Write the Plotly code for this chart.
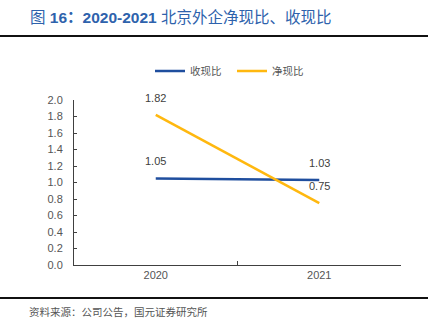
import plotly.graph_objects as go

years = ["2020", "2021"]
collect_ratio = [1.05, 1.03]   # 收现比
net_ratio = [1.82, 0.75]       # 净现比
series_names = ["收现比", "净现比"]
y_ticks = [0.0, 0.2, 0.4, 0.6, 0.8, 1.0, 1.2, 1.4, 1.6, 1.8, 2.0]

BLUE = "#1F4E9E"
YELLOW = "#FFB80F"
GRAY = "#404040"
CJK = "Liberation Sans, Noto Sans CJK SC"

# plot area in px
L, R, T, B = 74, 401, 100, 265
W, H = 435, 325
def px(x):
    return (x - L) / (R - L)
def py(y):
    return (B - y) / (B - T)

fig = go.Figure()
for name, vals, col in [(series_names[0], collect_ratio, BLUE), (series_names[1], net_ratio, YELLOW)]:
    fig.add_trace(go.Scatter(x=years, y=vals, mode="lines", name=name,
                             line=dict(color=col, width=2.5)))

annotations = []
for vals in (collect_ratio, net_ratio):
    for i, v in enumerate(vals):
        annotations.append(dict(x=i, y=v, xref="x", yref="y", text=f"{v:.2f}",
                                showarrow=False, yshift=17,
                                font=dict(family=CJK, size=11, color=GRAY)))

annotations.append(dict(x=px(28), y=py(17), xref="paper", yref="paper",
                        xanchor="left", yanchor="middle", showarrow=False,
                        text="图 <b>16：2020-2021</b> 北京外企净现比、收现比",
                        font=dict(family=CJK, size=15.5, color="#2E62AC")))
annotations.append(dict(x=px(27), y=py(312), xref="paper", yref="paper",
                        xanchor="left", yanchor="middle", showarrow=False,
                        text="资料来源：公司公告，国元证券研究所",
                        font=dict(family=CJK, size=10.5, color="#555555")))

shapes = [
    dict(type="line", xref="paper", yref="paper", x0=px(0), x1=px(428), y0=py(36), y1=py(36),
         line=dict(color="#111111", width=2)),
    dict(type="line", xref="paper", yref="paper", x0=px(0), x1=px(428), y0=py(298), y1=py(298),
         line=dict(color="#111111", width=2)),
]

fig.update_layout(
    width=W, height=H,
    margin=dict(l=L, r=W - R, t=T, b=H - B),
    paper_bgcolor="white", plot_bgcolor="white",
    showlegend=True,
    legend=dict(orientation="h", x=px(150), y=py(71), xanchor="left", yanchor="middle",
                font=dict(family=CJK, size=10.5, color="#555555"),
                bgcolor="rgba(0,0,0,0)", itemwidth=30, tracegroupgap=0,
                entrywidth=37),
    annotations=annotations,
    shapes=shapes,
    font=dict(family=CJK, size=11, color="#555555"),
)
fig.update_xaxes(type="category", range=[-0.5, 1.5], tickson="boundaries",
                 ticks="inside", ticklen=4, tickcolor=GRAY,
                 showline=True, linecolor=GRAY, linewidth=1, showgrid=False,
                 tickfont=dict(family=CJK, size=11, color="#555555"))
fig.update_yaxes(range=[0, 2.0], tickvals=y_ticks, tickformat=".1f",
                 ticks="inside", ticklen=3, tickcolor=GRAY,
                 showline=True, linecolor=GRAY, linewidth=1, showgrid=False,
                 zeroline=False, ticklabelstandoff=8,
                 tickfont=dict(family=CJK, size=11, color="#555555"))

fig.write_html("out.html")
